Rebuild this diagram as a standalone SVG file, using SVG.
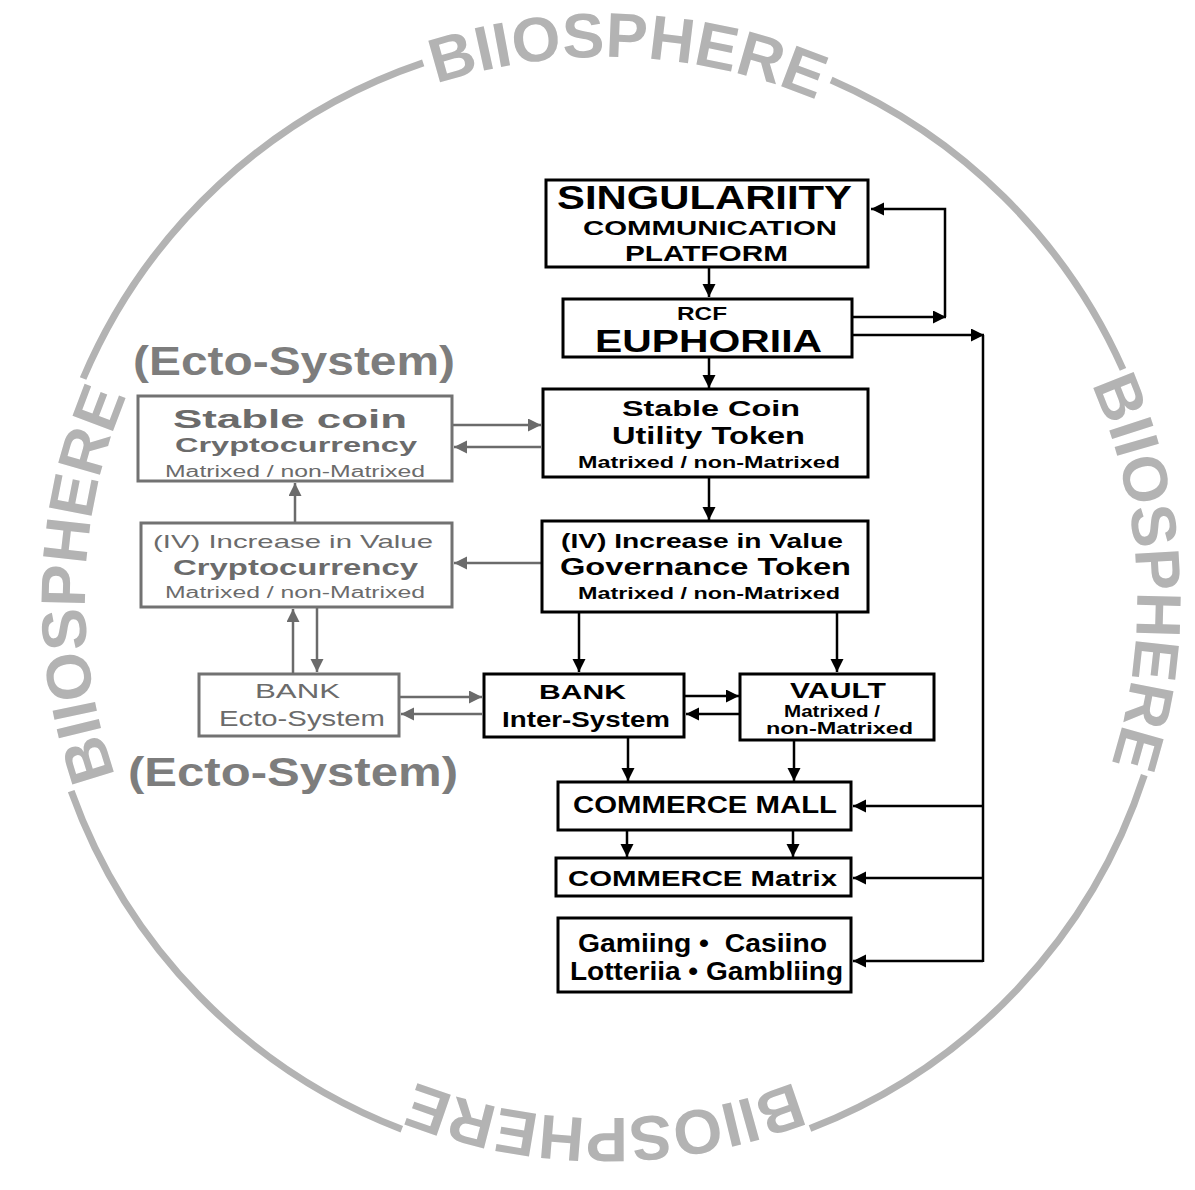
<svg xmlns="http://www.w3.org/2000/svg" width="1195" height="1190" viewBox="0 0 1195 1190">
<style>
.bg{fill:#fff}
.ring{fill:none;stroke:#b3b3b3;stroke-width:7}
.ringtxt{font-family:"Liberation Sans",Arial,sans-serif;font-weight:bold;font-size:63px;fill:#b3b3b3}
.bx{fill:#fff;stroke:#000;stroke-width:3}
.gbx{fill:#fff;stroke:#727272;stroke-width:3}
.t{font-family:"Liberation Sans",Arial,sans-serif;font-weight:bold;fill:#000;text-anchor:middle}
.g{font-family:"Liberation Sans",Arial,sans-serif;fill:#6b6b6b;text-anchor:middle}
.gb{font-weight:bold}
.ecto{font-family:"Liberation Sans",Arial,sans-serif;font-weight:bold;fill:#7d7d7d;text-anchor:middle;font-size:40px}
.c{fill:none;stroke:#000;stroke-width:2.5}
.gc{fill:none;stroke:#6b6b6b;stroke-width:2.5}
</style>
<defs>
<marker id="ah" markerUnits="userSpaceOnUse" markerWidth="14" markerHeight="14" refX="13" refY="6.5" orient="auto"><path d="M0,0 L13,6.5 L0,13 z" fill="#000"/></marker>
<marker id="gah" markerUnits="userSpaceOnUse" markerWidth="14" markerHeight="14" refX="13" refY="6.5" orient="auto"><path d="M0,0 L13,6.5 L0,13 z" fill="#6b6b6b"/></marker>
<path id="pTop" d="M273.7 169.8 A543 543 0 0 1 971.1 199.0"/>
<path id="pRight" d="M994.1 237.2 A532 532 0 0 1 1029.9 920.2"/>
<path id="pBottom" d="M938.0 996.8 A518 518 0 0 1 272.0 996.8"/>
<path id="pLeft" d="M196.9 922.3 A520 520 0 0 1 216.8 254.1"/>
</defs>
<rect class="bg" x="0" y="0" width="1195" height="1190"/>

<g id="biosphere-ring">
<path class="ring" d="M83.1 378.5 A567 567 0 0 1 423.2 62.9"/>
<path class="ring" d="M831.1 80.0 A567 567 0 0 1 1123.0 369.4"/>
<path class="ring" d="M1144.3 775.2 A567 567 0 0 1 810.0 1128.6"/>
<path class="ring" d="M401.8 1129.3 A567 567 0 0 1 71.2 791.1"/>
<text class="ringtxt"><textPath href="#pTop" startOffset="50%" text-anchor="middle">BIIOSPHERE</textPath></text>
<text class="ringtxt"><textPath href="#pRight" startOffset="50%" text-anchor="middle">BIIOSPHERE</textPath></text>
<text class="ringtxt"><textPath href="#pBottom" startOffset="50%" text-anchor="middle">BIIOSPHERE</textPath></text>
<text class="ringtxt"><textPath href="#pLeft" startOffset="50%" text-anchor="middle">BIIOSPHERE</textPath></text>
</g>

<g id="labels">
<text class="ecto" x="294" y="375" textLength="322" lengthAdjust="spacingAndGlyphs">(Ecto-System)</text>
<text class="ecto" x="293" y="786" textLength="330" lengthAdjust="spacingAndGlyphs">(Ecto-System)</text>
</g>

<g id="connectors">
<line class="c" x1="709" y1="268" x2="709" y2="297" marker-end="url(#ah)"/>
<line class="c" x1="853" y1="317" x2="946" y2="317" marker-end="url(#ah)"/>
<polyline class="c" points="945,317 945,209 871,209" marker-end="url(#ah)"/>
<line class="c" x1="853" y1="335" x2="984" y2="335" marker-end="url(#ah)"/>
<line class="c" x1="983" y1="335" x2="983" y2="962"/>
<line class="c" x1="983" y1="806" x2="853" y2="806" marker-end="url(#ah)"/>
<line class="c" x1="983" y1="878" x2="853" y2="878" marker-end="url(#ah)"/>
<line class="c" x1="983" y1="961" x2="853" y2="961" marker-end="url(#ah)"/>
<line class="c" x1="709" y1="358" x2="709" y2="388" marker-end="url(#ah)"/>
<line class="c" x1="709" y1="478" x2="709" y2="520" marker-end="url(#ah)"/>
<line class="c" x1="579" y1="613" x2="579" y2="672" marker-end="url(#ah)"/>
<line class="c" x1="837" y1="613" x2="837" y2="672" marker-end="url(#ah)"/>
<line class="c" x1="685" y1="696" x2="739" y2="696" marker-end="url(#ah)"/>
<line class="c" x1="739" y1="714" x2="686" y2="714" marker-end="url(#ah)"/>
<line class="c" x1="628" y1="738" x2="628" y2="781" marker-end="url(#ah)"/>
<line class="c" x1="794" y1="740" x2="794" y2="781" marker-end="url(#ah)"/>
<line class="c" x1="627" y1="830" x2="627" y2="857" marker-end="url(#ah)"/>
<line class="c" x1="793" y1="830" x2="793" y2="857" marker-end="url(#ah)"/>
<line class="gc" x1="453" y1="425" x2="541" y2="425" marker-end="url(#gah)"/>
<line class="gc" x1="541" y1="447" x2="454" y2="447" marker-end="url(#gah)"/>
<line class="gc" x1="541" y1="563" x2="454" y2="563" marker-end="url(#gah)"/>
<line class="gc" x1="295" y1="522" x2="295" y2="483" marker-end="url(#gah)"/>
<line class="gc" x1="317" y1="608" x2="317" y2="672" marker-end="url(#gah)"/>
<line class="gc" x1="293" y1="673" x2="293" y2="609" marker-end="url(#gah)"/>
<line class="gc" x1="400" y1="697" x2="482" y2="697" marker-end="url(#gah)"/>
<line class="gc" x1="482" y1="714" x2="401" y2="714" marker-end="url(#gah)"/>
</g>

<g id="singularity">
<rect class="bx" x="546" y="180" width="322" height="87"/>
<text class="t" x="704.5" y="209" font-size="33" textLength="295" lengthAdjust="spacingAndGlyphs">SINGULARIITY</text>
<text class="t" x="710" y="235" font-size="21" textLength="254" lengthAdjust="spacingAndGlyphs">COMMUNICATION</text>
<text class="t" x="706.5" y="261" font-size="22" textLength="163" lengthAdjust="spacingAndGlyphs">PLATFORM</text>
</g>

<g id="euphoriia">
<rect class="bx" x="563" y="299" width="289" height="58"/>
<text class="t" x="702" y="320" font-size="18" textLength="50" lengthAdjust="spacingAndGlyphs">RCF</text>
<text class="t" x="708.5" y="352" font-size="32" textLength="227" lengthAdjust="spacingAndGlyphs">EUPHORIIA</text>
</g>

<g id="stable-utility">
<rect class="bx" x="543" y="389" width="325" height="88"/>
<text class="t" x="711" y="416" font-size="22" textLength="178" lengthAdjust="spacingAndGlyphs">Stable Coin</text>
<text class="t" x="708.5" y="444" font-size="24" textLength="193" lengthAdjust="spacingAndGlyphs">Utility Token</text>
<text class="t" x="709" y="468" font-size="17" textLength="262" lengthAdjust="spacingAndGlyphs">Matrixed / non-Matrixed</text>
</g>

<g id="governance">
<rect class="bx" x="542" y="521" width="326" height="91"/>
<text class="t" x="702" y="548" font-size="20" textLength="282" lengthAdjust="spacingAndGlyphs">(IV) Increase in Value</text>
<text class="t" x="705.5" y="575" font-size="24" textLength="291" lengthAdjust="spacingAndGlyphs">Governance Token</text>
<text class="t" x="709" y="599" font-size="17" textLength="262" lengthAdjust="spacingAndGlyphs">Matrixed / non-Matrixed</text>
</g>

<g id="stable-crypto">
<rect class="gbx" x="138" y="396" width="314" height="85"/>
<text class="g gb" x="290" y="428" font-size="25" textLength="234" lengthAdjust="spacingAndGlyphs">Stable coin</text>
<text class="g gb" x="296" y="452" font-size="21" textLength="242" lengthAdjust="spacingAndGlyphs">Cryptocurrency</text>
<text class="g" x="295" y="477" font-size="16" textLength="260" lengthAdjust="spacingAndGlyphs">Matrixed / non-Matrixed</text>
</g>

<g id="iv-crypto">
<rect class="gbx" x="141" y="523" width="311" height="84"/>
<text class="g" x="293" y="548" font-size="19" textLength="280" lengthAdjust="spacingAndGlyphs">(IV) Increase in Value</text>
<text class="g gb" x="295.5" y="575" font-size="22" textLength="245" lengthAdjust="spacingAndGlyphs">Cryptocurrency</text>
<text class="g" x="295" y="598" font-size="16" textLength="260" lengthAdjust="spacingAndGlyphs">Matrixed / non-Matrixed</text>
</g>

<g id="bank-ecto">
<rect class="gbx" x="199" y="674" width="200" height="62"/>
<text class="g" x="297.5" y="698" font-size="21" textLength="85" lengthAdjust="spacingAndGlyphs">BANK</text>
<text class="g" x="302" y="726" font-size="22" textLength="166" lengthAdjust="spacingAndGlyphs">Ecto-System</text>
</g>

<g id="bank-inter">
<rect class="bx" x="484" y="674" width="200" height="63"/>
<text class="t" x="582.5" y="699" font-size="21" textLength="87" lengthAdjust="spacingAndGlyphs">BANK</text>
<text class="t" x="586" y="727" font-size="22" textLength="168" lengthAdjust="spacingAndGlyphs">Inter-System</text>
</g>

<g id="vault">
<rect class="bx" x="740" y="674" width="194" height="66"/>
<text class="t" x="838" y="698" font-size="22" textLength="96" lengthAdjust="spacingAndGlyphs">VAULT</text>
<text class="t" x="832" y="717" font-size="17" textLength="96" lengthAdjust="spacingAndGlyphs">Matrixed /</text>
<text class="t" x="839.5" y="734" font-size="17" textLength="147" lengthAdjust="spacingAndGlyphs">non-Matrixed</text>
</g>

<g id="commerce-mall">
<rect class="bx" x="558" y="782" width="293" height="48"/>
<text class="t" x="705" y="813" font-size="24" textLength="264" lengthAdjust="spacingAndGlyphs">COMMERCE MALL</text>
</g>

<g id="commerce-matrix">
<rect class="bx" x="556" y="858" width="295" height="38"/>
<text class="t" x="702.5" y="886" font-size="22" textLength="269" lengthAdjust="spacingAndGlyphs">COMMERCE Matrix</text>
</g>

<g id="gaming">
<rect class="bx" x="558" y="918" width="293" height="74"/>
<text class="t" x="702.5" y="952" font-size="26" textLength="249" lengthAdjust="spacingAndGlyphs" xml:space="preserve">Gamiing •  Casiino</text>
<text class="t" x="706.5" y="980" font-size="26" textLength="273" lengthAdjust="spacingAndGlyphs">Lotteriia • Gambliing</text>
</g>
</svg>
